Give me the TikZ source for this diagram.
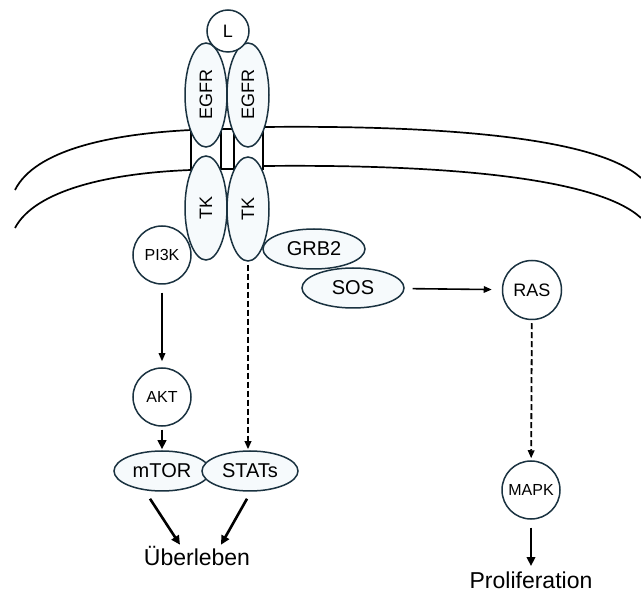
\documentclass[tikz,border=0pt]{standalone}
\usepackage{fontspec}
\setmainfont{Liberation Sans}
\usetikzlibrary{shapes.geometric, arrows.meta, positioning}
\definecolor{EdgeSlate}{RGB}{26,50,64}
\definecolor{CellFill}{RGB}{246,250,252}

\begin{document}
\begin{tikzpicture}[x=1pt, y=-1pt,
  mol/.style={ellipse, draw=EdgeSlate, line width=1.5pt, fill=CellFill,
    inner sep=0pt, minimum width=102pt, minimum height=40pt,
    font=\fontsize{20}{20}\selectfont},
  rec/.style={mol, rotate=90, minimum width=104pt, minimum height=42pt,
    font=\fontsize{18}{18}\selectfont},
  prot/.style={circle, draw=EdgeSlate, line width=1.5pt, fill=white,
    inner sep=0pt, minimum size=58pt, font=\fontsize{16}{16}\selectfont},
  flow/.style={line width=1.6pt, -{Triangle[length=8pt,width=6.5pt]}},
  heavy/.style={line width=2.6pt, -{Triangle[length=9pt,width=8.5pt]}},
  weak/.style={flow, line width=1.8pt, dash pattern=on 6pt off 3pt},
  result/.style={font=\fontsize{23}{23}\selectfont}
]
  \useasboundingbox (0,0) rectangle (641,596);

  % membrane
  \draw[line width=1.7pt] (15,190) .. controls (35,150) and (110,134) .. (191,130);
  \draw[line width=1.7pt] (15,228) .. controls (35,190) and (110,173) .. (191,170);
  \draw[line width=1.7pt] (263,127) .. controls (460,125) and (600,140) .. (641,178);
  \draw[line width=1.7pt] (263,166) .. controls (460,164) and (600,180) .. (641,218);

  % transmembrane part
  \draw[line width=1.3pt] (191,129) rectangle (263,169);
  \draw[line width=1.3pt] (221,129) -- (221,169);
  \draw[line width=1.3pt] (234,129) -- (234,169);

  % receptor dimer
  \node[rec] (egfrL) at (206,95) {EGFR};
  \node[rec] (egfrR) at (248,95) {EGFR};
  \node[rec] (tkL) at (206,208) {TK};
  \node[rec] (tkR) at (248,209) {TK};
  \node[prot, minimum size=42pt, font=\fontsize{18}{18}\selectfont] (lig) at (228,31) {L};

  % adaptor proteins
  \node[mol] (grb) at (314,249) {GRB2};
  \node[mol] (sos) at (353,288) {SOS};

  % PI3K branch
  \node[prot] (pik) at (162,255) {PI3K};
  \node[prot] (akt) at (162,397) {AKT};
  \node[mol, minimum width=96pt] (mtor) at (162,471) {mTOR};
  \node[mol, minimum width=96pt] (stats) at (250,471) {STATs};
  \node[result] (surv) at (197,556) {Überleben};

  % RAS branch
  \node[prot, minimum size=59pt, font=\fontsize{18}{18}\selectfont] (ras) at (532,290) {RAS};
  \node[prot] (mapk) at (531,490) {MAPK};
  \node[result] (prolif) at (531,580) {Proliferation};

  % signalling
  \draw[flow, shorten <=8pt, shorten >=6pt] (pik) -- (akt);
  \draw[heavy, shorten <=3pt, shorten >=1pt] (akt) -- (mtor);
  \draw[weak, shorten <=3pt, shorten >=1pt] (tkR.west) -- (stats.north -| tkR.west);
  \draw[flow, shorten <=8pt, shorten >=10pt] (sos) -- (ras);
  \draw[weak, shorten <=3pt, shorten >=2pt] (ras) -- (mapk);
  \draw[heavy, shorten <=8pt, shorten >=2pt] (mapk) -- (prolif);
  \draw[heavy] ([xshift=-12pt,yshift=-7pt]mtor.south) -- ([xshift=-17pt,yshift=-2pt]surv.north);
  \draw[heavy] ([xshift=-3pt,yshift=-7pt]stats.south) -- ([xshift=24pt,yshift=-2pt]surv.north);
\end{tikzpicture}
\end{document}
